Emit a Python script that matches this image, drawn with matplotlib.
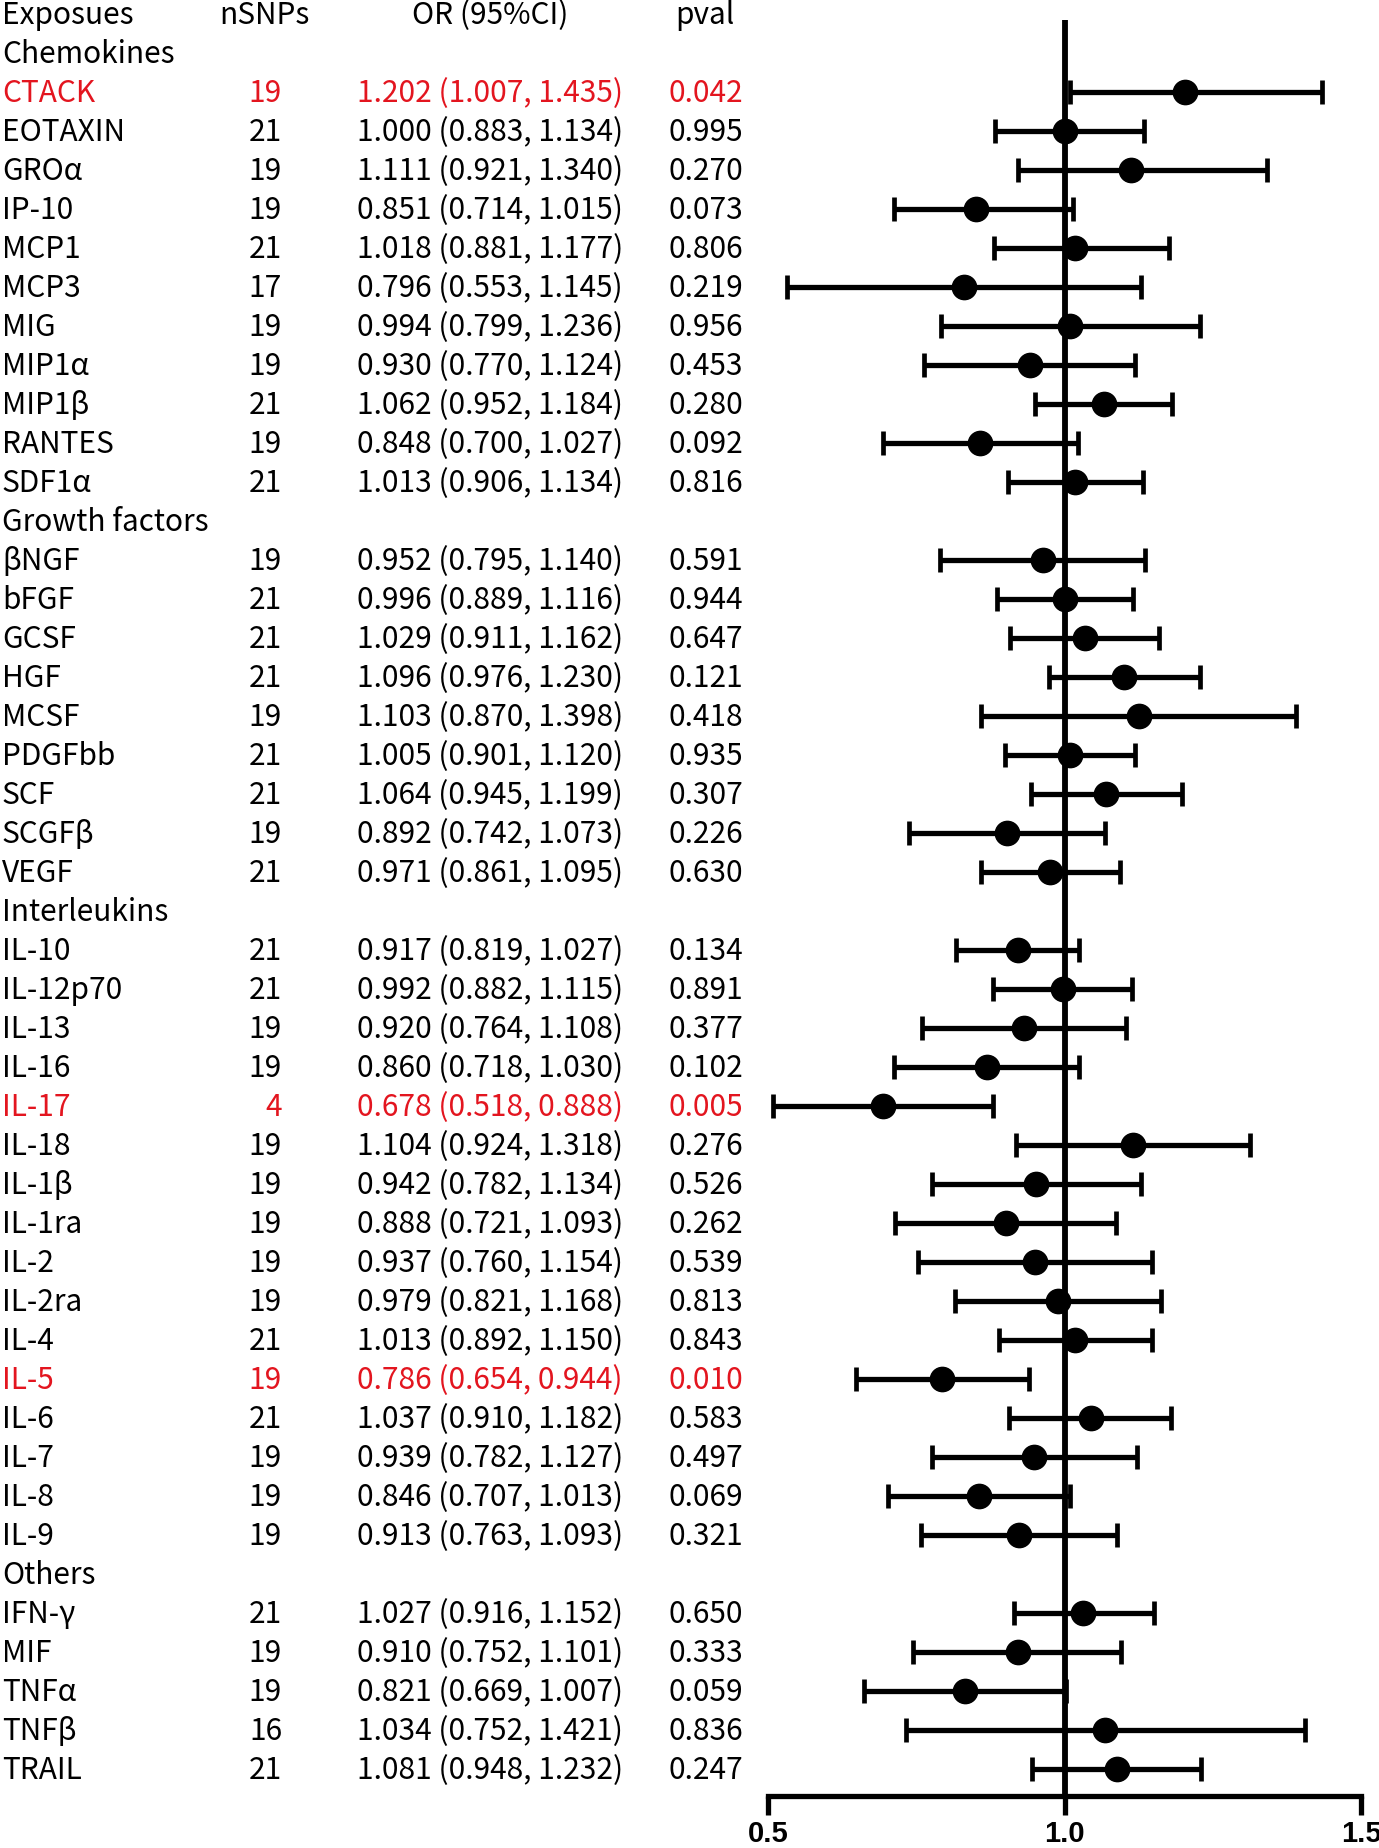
import numpy as np
import matplotlib
matplotlib.use("Agg")
import matplotlib.pyplot as plt
import matplotlib.transforms as mtransforms

plt.rcParams['font.family'] = ['Noto Sans CJK SC', 'DejaVu Sans']

# grupos e exposicoes
groups = ["Chemokines", "Growth factors", "Interleukins", "Others"]
group_sizes = [11, 9, 16, 5]
exposures = ["CTACK", "EOTAXIN", "GROα", "IP-10", "MCP1", "MCP3", "MIG", "MIP1α", "MIP1β", "RANTES", "SDF1α",
             "βNGF", "bFGF", "GCSF", "HGF", "MCSF", "PDGFbb", "SCF", "SCGFβ", "VEGF",
             "IL-10", "IL-12p70", "IL-13", "IL-16", "IL-17", "IL-18", "IL-1β", "IL-1ra", "IL-2", "IL-2ra",
             "IL-4", "IL-5", "IL-6", "IL-7", "IL-8", "IL-9",
             "IFN-γ", "MIF", "TNFα", "TNFβ", "TRAIL"]
nsnps = [19, 21, 19, 19, 21, 17, 19, 19, 21, 19, 21,
         19, 21, 21, 21, 19, 21, 21, 19, 21,
         21, 21, 19, 19, 4, 19, 19, 19, 19, 19, 21, 19, 21, 19, 19, 19,
         21, 19, 19, 16, 21]

# valores da tabela (texto)
or_txt = [1.202, 1.000, 1.111, 0.851, 1.018, 0.796, 0.994, 0.930, 1.062, 0.848, 1.013,
          0.952, 0.996, 1.029, 1.096, 1.103, 1.005, 1.064, 0.892, 0.971,
          0.917, 0.992, 0.920, 0.860, 0.678, 1.104, 0.942, 0.888, 0.937, 0.979, 1.013, 0.786, 1.037, 0.939, 0.846, 0.913,
          1.027, 0.910, 0.821, 1.034, 1.081]
lo_txt = [1.007, 0.883, 0.921, 0.714, 0.881, 0.553, 0.799, 0.770, 0.952, 0.700, 0.906,
          0.795, 0.889, 0.911, 0.976, 0.870, 0.901, 0.945, 0.742, 0.861,
          0.819, 0.882, 0.764, 0.718, 0.518, 0.924, 0.782, 0.721, 0.760, 0.821, 0.892, 0.654, 0.910, 0.782, 0.707, 0.763,
          0.916, 0.752, 0.669, 0.752, 0.948]
hi_txt = [1.435, 1.134, 1.340, 1.015, 1.177, 1.145, 1.236, 1.124, 1.184, 1.027, 1.134,
          1.140, 1.116, 1.162, 1.230, 1.398, 1.120, 1.199, 1.073, 1.095,
          1.027, 1.115, 1.108, 1.030, 0.888, 1.318, 1.134, 1.093, 1.154, 1.168, 1.150, 0.944, 1.182, 1.127, 1.013, 1.093,
          1.152, 1.101, 1.007, 1.421, 1.232]
pval = [0.042, 0.995, 0.270, 0.073, 0.806, 0.219, 0.956, 0.453, 0.280, 0.092, 0.816,
        0.591, 0.944, 0.647, 0.121, 0.418, 0.935, 0.307, 0.226, 0.630,
        0.134, 0.891, 0.377, 0.102, 0.005, 0.276, 0.526, 0.262, 0.539, 0.813, 0.843, 0.010, 0.583, 0.497, 0.069, 0.321,
        0.650, 0.333, 0.059, 0.836, 0.247]

# valores desenhados no grafico
or_plot = [1.203, 1.000, 1.112, 0.851, 1.018, 0.831, 1.009, 0.942, 1.067, 0.858, 1.018,
           0.963, 1.000, 1.035, 1.101, 1.125, 1.009, 1.070, 0.903, 0.975,
           0.922, 0.997, 0.931, 0.869, 0.694, 1.116, 0.952, 0.901, 0.950, 0.989, 1.018, 0.794, 1.044, 0.949, 0.855, 0.923,
           1.032, 0.921, 0.833, 1.069, 1.088]
lo_plot = [1.009, 0.883, 0.921, 0.713, 0.881, 0.532, 0.791, 0.763, 0.950, 0.694, 0.904,
           0.790, 0.886, 0.908, 0.974, 0.859, 0.900, 0.943, 0.737, 0.859,
           0.817, 0.880, 0.759, 0.713, 0.508, 0.918, 0.776, 0.715, 0.753, 0.815, 0.889, 0.649, 0.907, 0.776, 0.702, 0.758,
           0.914, 0.745, 0.662, 0.733, 0.945]
hi_plot = [1.435, 1.134, 1.341, 1.015, 1.177, 1.129, 1.229, 1.119, 1.182, 1.022, 1.133,
           1.136, 1.115, 1.159, 1.228, 1.390, 1.119, 1.198, 1.068, 1.094,
           1.025, 1.113, 1.104, 1.025, 0.880, 1.313, 1.129, 1.087, 1.147, 1.163, 1.147, 0.940, 1.180, 1.122, 1.009, 1.088,
           1.151, 1.096, 1.003, 1.406, 1.230]

RED = "#E3151F"

# posicoes das linhas: cabecalho de grupo ocupa uma linha
ypos = []
group_rows = []
k = 0
for g, n in zip(groups, group_sizes):
    group_rows.append(k - 1)
    for i in range(n):
        ypos.append(k)
        k += 1
    k += 1
ypos = np.array(ypos)

fig = plt.figure(figsize=(13.79, 18.49), dpi=100)
ax = fig.add_axes([768 / 1379, 1 - 1797 / 1849, 593 / 1379, 1797 / 1849])
y_bottom = (1797 - 93) / 39.0
y_top = -93 / 39.0
ax.set_xlim(0.5, 1.5)
ax.set_ylim(y_bottom, y_top)

# linha de referencia em OR = 1
ax.plot([1.0, 1.0], [-1.84, y_bottom], color="black", lw=4.2, solid_capstyle="butt",
        clip_on=False, zorder=1)

or_p = np.array(or_plot)
ax.errorbar(or_p, ypos, xerr=[or_p - np.array(lo_plot), np.array(hi_plot) - or_p],
            fmt="o", color="black", ms=17.5, elinewidth=3.8, capsize=8.4, capthick=3.4,
            clip_on=False, zorder=3)

for s in ["left", "right", "top"]:
    ax.spines[s].set_visible(False)
ax.spines["bottom"].set_linewidth(3.8)
ax.set_yticks([])
ax.set_xticks([0.5, 1.0, 1.5])
ax.set_xticklabels(["0.5", "1.0", "1.5"], fontfamily="Liberation Sans", fontweight="bold", fontsize=21)
ax.tick_params(axis="x", direction="out", length=14, width=3.8, pad=2.5)

# tabela de texto
tr = mtransforms.blended_transform_factory(fig.transFigure, ax.transData)
fs = 21.5
off = 0.24
ax.text(2 / 1379, -2 + off, "Exposues", transform=tr, fontsize=fs, va="baseline", ha="left")
ax.text(264.5 / 1379, -2 + off, "nSNPs", transform=tr, fontsize=fs, va="baseline", ha="center")
ax.text(490 / 1379, -2 + off, "OR (95%CI)", transform=tr, fontsize=fs, va="baseline", ha="center")
ax.text(704.5 / 1379, -2 + off, "pval", transform=tr, fontsize=fs, va="baseline", ha="center")

for g, r in zip(groups, group_rows):
    ax.text(2 / 1379, r + off, g, transform=tr, fontsize=fs, va="baseline", ha="left")

for i, y in enumerate(ypos):
    c = RED if pval[i] < 0.05 else "black"
    kw = dict(transform=tr, fontsize=fs, va="baseline", color=c)
    ax.text(2 / 1379, y + off, exposures[i], ha="left", **kw)
    ax.text(282 / 1379, y + off, str(nsnps[i]), ha="right", **kw)
    ax.text(357 / 1379, y + off, f"{or_txt[i]:.3f} ({lo_txt[i]:.3f}, {hi_txt[i]:.3f})", ha="left", **kw)
    ax.text(669 / 1379, y + off, f"{pval[i]:.3f}", ha="left", **kw)

fig.savefig("out.png", dpi=100)
